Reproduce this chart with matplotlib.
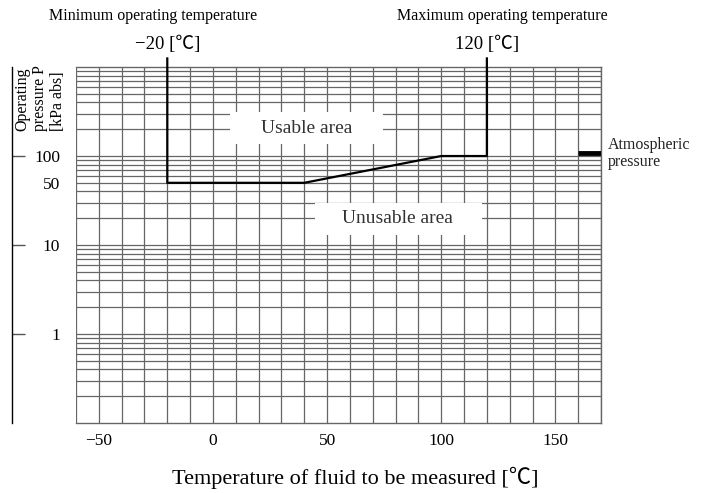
import numpy as np
import matplotlib.pyplot as plt
from matplotlib.ticker import MultipleLocator, LogLocator, NullFormatter
from matplotlib.patches import Rectangle
import matplotlib.transforms as mtransforms

plt.rcParams['font.family'] = ['Liberation Serif', 'Noto Sans CJK JP', 'DejaVu Serif']

# operating limit line (temperature degC, pressure kPa abs)
limit_temp = [-20, -20, 40, 100, 120, 120]
limit_pres = [1250, 50, 50, 100, 100, 1250]
t_min, t_max = -20, 120
atm_temp = [160, 170]
atm_pres = [107, 107]

x_ticks = [-50, 0, 50, 100, 150]
y_ticks = [1, 10, 50, 100]
y_labels = ['1', '10', '50', '100']

fig = plt.figure(figsize=(7.1, 4.93), dpi=100)
ax = fig.add_axes([0.107, 0.142, 0.7395, 0.722])
ax.set_yscale('log')
ax.set_xlim(-60, 170)
ax.set_ylim(0.1, 1000)

# grid
ax.set_xticks(x_ticks)
ax.xaxis.set_minor_locator(MultipleLocator(10))
ax.set_yticks(y_ticks)
ax.set_yticklabels(y_labels)
ax.yaxis.set_minor_locator(LogLocator(base=10, subs=np.arange(2, 10)))
ax.yaxis.set_minor_formatter(NullFormatter())
ax.grid(which='both', color='#666666', linewidth=0.9)
ax.set_axisbelow(True)

for s in ['top', 'right', 'bottom']:
    ax.spines[s].set_color('#666666')
    ax.spines[s].set_linewidth(1.0)
ax.spines['left'].set_position(('outward', 46))
ax.spines['left'].set_color('black')
ax.spines['left'].set_linewidth(1.0)

ax.tick_params(axis='x', which='both', length=0, labelsize=12.5, pad=7)
ax.tick_params(axis='y', which='major', direction='in', length=9.5, width=1.0,
               color='#555555', labelsize=12.5, pad=-34.5)
ax.tick_params(axis='y', which='minor', length=0)
ax.yaxis.get_major_ticks()[2].tick1line.set_visible(False)

# white label boxes over grid
ax.add_patch(Rectangle((7.5, 135), 67, 176, facecolor='white', edgecolor='none', zorder=1.5))
ax.add_patch(Rectangle((44.7, 13), 73, 17, facecolor='white', edgecolor='none', zorder=1.5))
ax.text(41, 205, 'Usable area', ha='center', va='center', fontsize=14, color='#333333', zorder=3)
ax.text(81, 20, 'Unusable area', ha='center', va='center', fontsize=14, color='#333333', zorder=3)

# limit line
ax.plot(limit_temp, limit_pres, color='black', linewidth=1.6, clip_on=False, zorder=4)
ax.plot(atm_temp, atm_pres, color='black', linewidth=3.5, solid_capstyle='butt', zorder=4)
ax.text(173, 107, 'Atmospheric\npressure', ha='left', va='center', fontsize=11.5,
        color='#222222', linespacing=1.15)

trans = mtransforms.blended_transform_factory(ax.transData, ax.transAxes)
ax.text(t_min, 1.065, '\u221220 [\u2103]', transform=trans, ha='center', va='center', fontsize=13.5)
ax.text(t_max, 1.065, '120 [\u2103]', transform=trans, ha='center', va='center', fontsize=13.5)
fig.text(153 / 710, 1 - 16 / 493, 'Minimum operating temperature', ha='center', va='center', fontsize=11.5)
fig.text(502 / 710, 1 - 16 / 493, 'Maximum operating temperature', ha='center', va='center', fontsize=11.5)

fig.text(14 / 710, 1 - 131 / 493, 'Operating\npressure P\n[kPa abs]', rotation=90,
         ha='left', va='bottom', fontsize=11.5, linespacing=1.15, multialignment='left')

fig.text(355 / 710, 1 - 478 / 493, 'Temperature of fluid to be measured [\u2103]',
         ha='center', va='center', fontsize=16)

fig.savefig('out.png', dpi=100)
